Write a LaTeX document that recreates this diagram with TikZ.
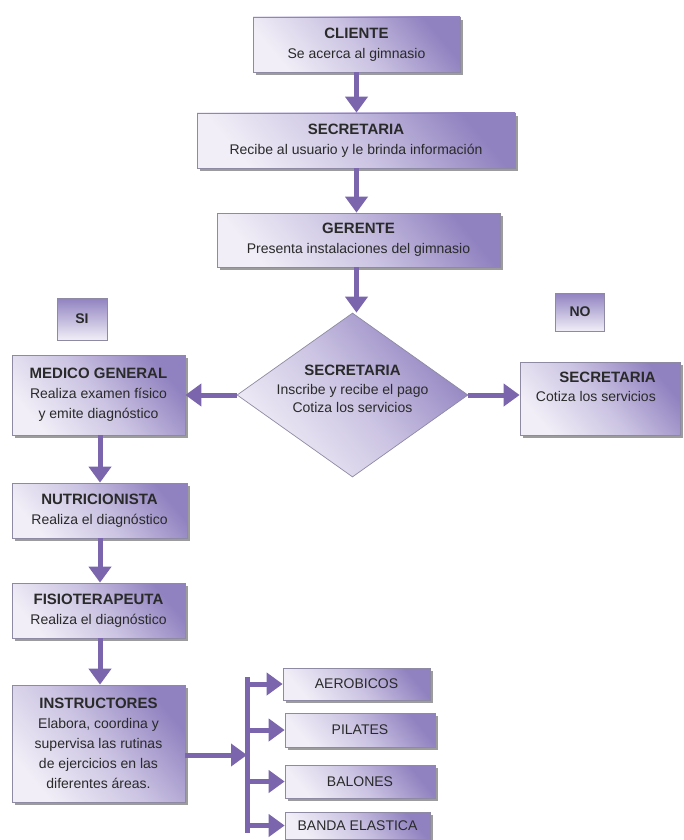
\documentclass[tikz,border=0pt]{standalone}
\usepackage{fontspec}
\setmainfont{Liberation Sans}
\usetikzlibrary{arrows.meta,shapes.geometric,shadows}
\definecolor{boxdark}{HTML}{9082C0}
\definecolor{boxmid}{HTML}{CBC3E2}
\definecolor{boxlight}{HTML}{F1EEF7}
\definecolor{bordc}{HTML}{8F8AA3}
\definecolor{arrc}{HTML}{7B66AD}
\definecolor{txtc}{HTML}{2A2A2A}
\definecolor{shadc}{HTML}{9C9C9C}
\tikzset{
  box/.style={rectangle, draw=bordc, line width=0.7pt, inner sep=0pt,
    shading=axis, bottom color=boxlight, top color=boxdark, middle color=boxmid, shading angle=-50,
    drop shadow={shadow xshift=3pt, shadow yshift=-3pt, fill=shadc, opacity=1},
    text=txtc, align=center, font=\fontsize{14}{20}\selectfont},
  tag/.style={rectangle, draw=bordc, line width=0.7pt, inner sep=0pt,
    top color=boxdark, bottom color=boxlight, text=txtc,
    font=\fontsize{14}{16}\selectfont\bfseries},
  dia/.style={diamond, draw=bordc, line width=0.7pt, inner sep=0pt,
    shading=axis, bottom color=boxlight, top color=boxdark, middle color=boxmid, shading angle=-50},
  txt/.style={text=txtc, align=center, font=\fontsize{14}{18.5}\selectfont, inner sep=0pt},
  arr/.style={line width=5pt, draw=arrc, -{Triangle[width=22pt,length=16pt]}},
  bar/.style={line width=5pt, draw=arrc},
}
\newcommand{\ttl}[1]{{\fontsize{15}{20}\selectfont\bfseries #1}}
\begin{document}
\begin{tikzpicture}[x=1pt,y=-1pt]
\useasboundingbox (0,0) rectangle (683,840);

\node[box, minimum width=207pt, minimum height=55pt] (cli) at (356.5,44.5)
  {\ttl{CLIENTE}\\Se acerca al gimnasio};
\node[box, minimum width=318pt, minimum height=55pt] (sec) at (356,140.5)
  {\ttl{SECRETARIA}\\Recibe al usuario y le brinda información};
\node[box, minimum width=283pt, minimum height=54pt] (ger) at (358.5,240)
  {\ttl{GERENTE}\\Presenta instalaciones del gimnasio};

\node[dia, minimum width=231pt, minimum height=164pt] (dec) at (352.5,395) {};
\node[txt] (dect) at (352.5,389)
  {\ttl{SECRETARIA}\\Inscribe y recibe el pago\\Cotiza los servicios};

\node[tag, minimum width=50pt, minimum height=42pt] (si) at (82,319) {SI};
\node[tag, minimum width=49pt, minimum height=38pt] (no) at (580,312) {NO};

\node[box, minimum width=160pt, minimum height=73pt] (nob) at (600,398.5) {};
\node[txt, align=right, anchor=east] (nobt) at (656,387)
  {\ttl{SECRETARIA}\\Cotiza los servicios};

\node[box, minimum width=173pt, minimum height=80pt] (med) at (98.5,395)
  {\ttl{MEDICO GENERAL}\\Realiza examen físico\\y emite diagnóstico};
\node[box, minimum width=175pt, minimum height=55pt] (nut) at (99.5,510.5)
  {\ttl{NUTRICIONISTA}\\Realiza el diagnóstico};
\node[box, minimum width=173pt, minimum height=55pt] (fis) at (98.5,610.5)
  {\ttl{FISIOTERAPEUTA}\\Realiza el diagnóstico};
\node[box, minimum width=173pt, minimum height=117pt] (ins) at (98.5,743.5)
  {\ttl{INSTRUCTORES}\\Elabora, coordina y\\supervisa las rutinas\\de ejercicios en las\\diferentes áreas.};

\node[box, minimum width=147pt, minimum height=32pt] (aer) at (356.5,684) {AEROBICOS};
\node[box, minimum width=150pt, minimum height=34pt] (pil) at (360,730) {PILATES};
\node[box, minimum width=150pt, minimum height=33pt] (bal) at (360,781.5) {BALONES};
\node[box, minimum width=145pt, minimum height=27pt] (ban) at (357.5,825.5) {BANDA ELASTICA};

% vertical chain
\draw[arr] (cli.south) -- (cli.south |- sec.north);
\draw[arr] (cli.south |- sec.south) -- (cli.south |- ger.north);
\draw[arr] (cli.south |- ger.south) -- (cli.south |- dec.north);
\draw[arr] (dec.west) -- (med.east |- dec.west);
\draw[arr] (dec.east) -- (nob.west |- dec.east);
\draw[arr] (100,0 |- med.south) -- (100,0 |- nut.north);
\draw[arr] (100,0 |- nut.south) -- (100,0 |- fis.north);
\draw[arr] (100,0 |- fis.south) -- (100,0 |- ins.north);

% branching
\coordinate (bj) at (247,755);
\coordinate (bt) at (247,677);
\coordinate (bb) at (247,833);
\draw[bar] (bt) -- (bb);
\draw[arr] (ins.east |- bj) -- (bj);
\draw[arr] (bt |- aer.west) -- (aer.west);
\draw[arr] (bt |- pil.west) -- (pil.west);
\draw[arr] (bt |- bal.west) -- (bal.west);
\draw[arr] (bt |- ban.west) -- (ban.west);
\end{tikzpicture}
\end{document}
